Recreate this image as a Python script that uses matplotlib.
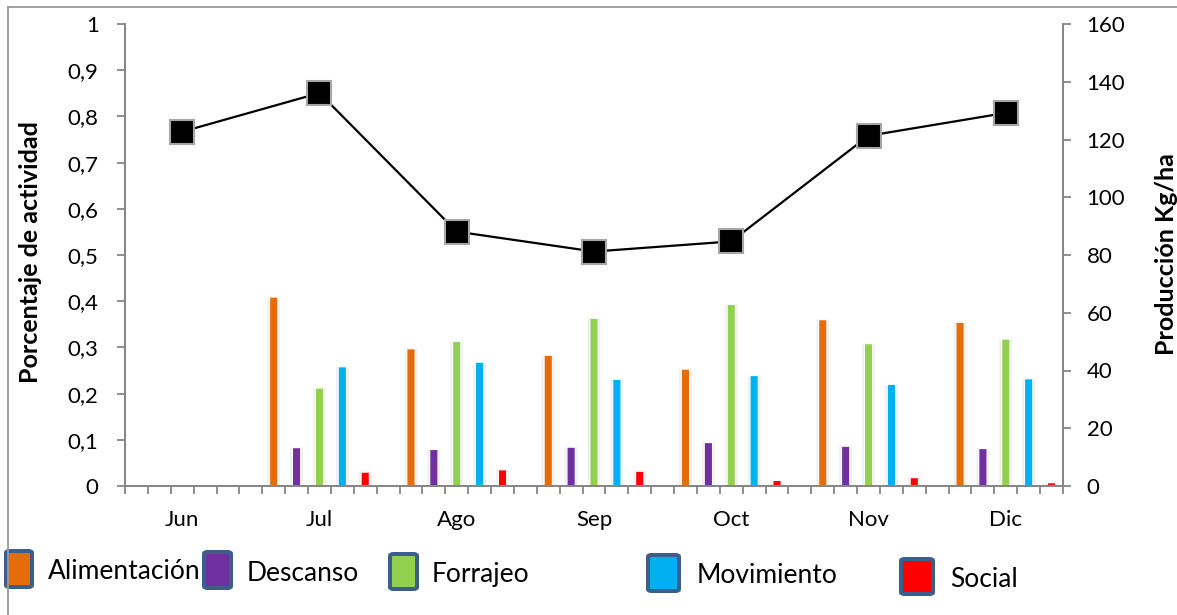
import numpy as np
import matplotlib
matplotlib.use("Agg")
import matplotlib.pyplot as plt
from matplotlib.ticker import FuncFormatter, FixedLocator
from matplotlib.patches import FancyBboxPatch
from matplotlib.lines import Line2D

# ---- data ----
months = ["Jun", "Jul", "Ago", "Sep", "Oct", "Nov", "Dic"]
alimentacion = [None, 0.409, 0.297, 0.283, 0.253, 0.360, 0.354]
descanso     = [None, 0.083, 0.079, 0.084, 0.094, 0.086, 0.081]
forrajeo     = [None, 0.212, 0.313, 0.363, 0.393, 0.308, 0.318]
movimiento   = [None, 0.258, 0.268, 0.231, 0.239, 0.220, 0.232]
social       = [None, 0.030, 0.035, 0.032, 0.012, 0.018, 0.007]
produccion   = [122.7, 136.1, 88.1, 81.2, 84.7, 121.3, 129.2]

series_names = ["Alimentación", "Descanso", "Forrajeo", "Movimiento", "Social"]
series_vals = [alimentacion, descanso, forrajeo, movimiento, social]
colors = ["#E46C0A", "#7030A0", "#92D050", "#00B0F0", "#FF0000"]

FONT = "Lato"
plt.rcParams["font.family"] = [FONT, "DejaVu Sans"]
AXIS_GRAY = "#868686"

W, H = 1177, 615
fig = plt.figure(figsize=(W / 100, H / 100), dpi=100)
ax = fig.add_axes([125 / W, 1 - 486 / H, (1063 - 125) / W, (486 - 24) / H])

slots = 6  # five activity bars plus a spacer per month
n_slots = slots * len(months) - 1

# bars: each activity occupies its own slot within the month
for k, (vals, col) in enumerate(zip(series_vals, colors)):
    xs = [slots * m + k for m, v in enumerate(vals) if v is not None]
    hs = [v for v in vals if v is not None]
    glow = ax.bar(xs, hs, width=0.56, color="#e4e4e4", alpha=0.55, linewidth=0, zorder=1)
    main = ax.bar(xs, hs, width=0.36, color=col, edgecolor="white", linewidth=0.8, zorder=2)
    for p in list(glow) + list(main):
        p.set_snap(False)

ax.set_xlim(-0.5, n_slots - 0.5)
ax.set_ylim(0, 1)
ax.set_yticks(np.arange(0, 1.01, 0.1))


def comma_fmt(v, pos):
    if abs(v - round(v)) < 1e-9:
        return f"{int(round(v))}"
    return f"{v:.1f}".replace(".", ",")


ax.yaxis.set_major_formatter(FuncFormatter(comma_fmt))

centers = [slots * m + 2 for m in range(len(months))]
ax.xaxis.set_major_locator(FixedLocator(centers))
ax.set_xticklabels(months)
ax.xaxis.set_minor_locator(FixedLocator(np.arange(-0.5, n_slots, 1.0)))
ax.tick_params(axis="x", which="major", length=0, pad=17, labelsize=16)
ax.tick_params(axis="x", which="minor", length=6, width=1.3, color=AXIS_GRAY, direction="out")
ax.tick_params(axis="y", length=6, width=1.3, color=AXIS_GRAY, pad=13, labelsize=16)

ax.spines["top"].set_visible(False)
for s in ["left", "bottom", "right"]:
    ax.spines[s].set_color(AXIS_GRAY)
    ax.spines[s].set_linewidth(1.3)

ax.set_ylabel("Porcentaje de actividad", fontsize=18, fontweight="bold")
ax.yaxis.set_label_coords(-0.088, 0.506)

# production line on the secondary axis
ax2 = ax.twinx()
ax2.set_ylim(0, 160)
ax2.set_yticks(np.arange(0, 161, 20))
ax2.plot(centers, produccion, color="black", linewidth=1.6, marker="s",
         markersize=17, markerfacecolor="black", markeredgecolor="#A6A6A6",
         markeredgewidth=1.5, zorder=5)
ax2.tick_params(axis="y", length=6, width=1.3, color=AXIS_GRAY, pad=11, labelsize=16)
ax2.spines["top"].set_visible(False)
for s in ["left", "bottom", "right"]:
    ax2.spines[s].set_color(AXIS_GRAY)
    ax2.spines[s].set_linewidth(1.3)
ax2.set_ylabel("Producción Kg/ha", fontsize=18, fontweight="bold")
ax2.yaxis.set_label_coords(1.098, 0.503)

# outer frame (top and left edges)
fig.add_artist(Line2D([8 / W, 8 / W], [0, 1 - 7 / H], transform=fig.transFigure,
                      color="#9a9a9a", linewidth=1.3))
fig.add_artist(Line2D([8 / W, 1], [1 - 7 / H, 1 - 7 / H], transform=fig.transFigure,
                      color="#9a9a9a", linewidth=1.3))

# legend: swatches and names placed along the bottom
legend_items = [
    # (swatch x0, x1, y0, y1, text x, text baseline)
    (6, 32, 551, 587, 48, 579),
    (204, 231, 552, 588, 247, 581),
    (390, 417, 554, 589, 432, 582),
    (648, 679, 555, 591, 697, 583),
    (901, 933, 559, 594, 950, 587),
]
for (x0, x1, y0, y1, tx, tb), name, col in zip(legend_items, series_names, colors):
    bw = 4
    box = FancyBboxPatch((x0 / W, 1 - y1 / H), (x1 - x0) / W, (y1 - y0) / H,
                         boxstyle="round,pad=0,rounding_size=0.003",
                         transform=fig.transFigure, facecolor=col,
                         edgecolor="#3B5E8C", linewidth=bw * 0.72)
    fig.add_artist(box)
    fig.text(tx / W, 1 - tb / H, name, fontsize=19, va="baseline", ha="left")

fig.savefig("out.png", dpi=100)
